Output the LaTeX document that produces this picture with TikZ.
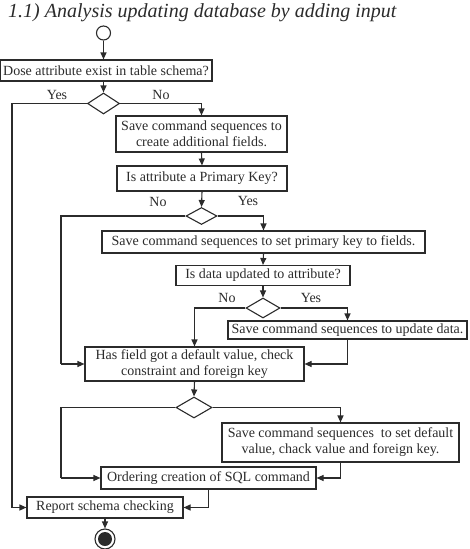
\documentclass[tikz,border=0pt]{standalone}
\usepackage{fontspec}
\setmainfont{Liberation Serif}
\usetikzlibrary{arrows.meta,shapes.geometric}
\definecolor{ink}{rgb}{0.17,0.17,0.17}
\begin{document}
\begin{tikzpicture}[x=1pt,y=-1pt,
  every node/.style={text=ink,font=\fontsize{14}{16}\selectfont},
  box/.style={draw=ink,line width=1.1pt,align=center,inner sep=0pt},
  dia/.style={draw=ink,line width=1.1pt,diamond,inner sep=0pt},
  lbl/.style={inner sep=0pt},
  arr/.style={draw=ink,line width=1.1pt,-{Triangle[length=7pt,width=6pt]}},
  ln/.style={draw=ink,line width=1.1pt}]
\useasboundingbox (0,0) rectangle (469,549);
\node[lbl,anchor=base west,font=\fontsize{20}{24}\selectfont\itshape] (title) at (8,17) {1.1) Analysis updating database by adding input};
\node[draw=ink,line width=1.1pt,circle,minimum size=14pt,inner sep=0pt] (start) at (103.5,33) {};
\node[box,minimum width=212pt,minimum height=21pt] (b1) at (106,70.5) {Dose attribute exist in table schema?};
\node[dia,minimum width=32pt,minimum height=21pt] (d1) at (103.5,103.5) {};
\node[box,minimum width=171pt,minimum height=36pt] (b2) at (201.5,134) {Save command sequences to\\create additional fields.};
\node[box,minimum width=170pt,minimum height=25pt] (b3) at (202,178.5) {Is attribute a Primary Key?};
\node[dia,minimum width=31pt,minimum height=17pt] (d2) at (201.5,216) {};
\node[box,minimum width=323pt,minimum height=22pt] (b4) at (263.5,242) {Save command sequences to set primary key to fields.};
\node[box,minimum width=174pt,minimum height=20pt] (b5) at (263,275.5) {Is data updated to attribute?};
\node[dia,minimum width=34pt,minimum height=20pt] (d3) at (263,308) {};
\node[box,minimum width=239pt,minimum height=18pt] (b7) at (347.5,330) {Save command sequences to update data.};
\node[box,minimum width=219pt,minimum height=34pt] (b6) at (194.5,364) {Has field got a default value, check\\constraint and foreign key};
\node[dia,minimum width=36pt,minimum height=21pt] (d4) at (194,407.5) {};
\node[box,minimum width=237pt,minimum height=39pt] (b9) at (340.5,442.5) {Save command sequences\ \ to set default\\value, chack value and foreign key.};
\node[box,minimum width=215pt,minimum height=22pt] (b8) at (208.5,478) {Ordering creation of SQL command};
\node[box,minimum width=156pt,minimum height=21pt] (rep) at (105,507.5) {Report schema checking};
\node[draw=ink,line width=1.1pt,circle,minimum size=20pt,inner sep=0pt] (endo) at (105,539) {};
\node[fill=ink,circle,minimum size=14pt,inner sep=0pt] (endi) at (105,539) {};
% labels
\node[lbl] (y1) at (57,95) {Yes};
\node[lbl] (n1) at (161,95) {No};
\node[lbl] (n2) at (158,202) {No};
\node[lbl] (y2) at (248,201) {Yes};
\node[lbl] (n3) at (227,298) {No};
\node[lbl] (y3) at (311,298) {Yes};
% corner coordinates
\coordinate (c1) at (12,507.5);
\coordinate (c2) at (61,364);
\coordinate (c3) at (61,478);
% connectors
\draw[arr] (start.south) -- (start.south |- b1.north);
\draw[arr] (d1.north |- b1.south) -- (d1.north);
\draw[ln] (d1.west) -| (c1);
\draw[arr] (c1) -- (rep.west);
\draw[arr] (d1.east) -| (b2.north);
\draw[arr] (b2.south) -- (b3.north);
\draw[arr] (b3.south) -- (d2.north);
\draw[ln] (d2.west) -| (c2);
\draw[arr] (c2) -- (b6.west);
\draw[arr] (d2.east) -| (b4.north);
\draw[arr] (b4.south) -- (b5.north);
\draw[arr] (b5.south) -- (d3.north);
\draw[arr] (d3.west) -| (b6.north);
\draw[arr] (d3.east) -| (b7.north);
\draw[arr] (b7.south) |- (b6.east);
\draw[arr] (b6.south) -- (d4.north);
\draw[ln] (d4.west) -| (c3);
\draw[arr] (c3) -- (b8.west);
\draw[arr] (d4.east) -| (b9.north);
\draw[arr] (b9.south) |- (b8.east);
\draw[arr] (b8.south) |- (rep.east);
\draw[arr] (rep.south) -- (endo.north);
\end{tikzpicture}
\end{document}
